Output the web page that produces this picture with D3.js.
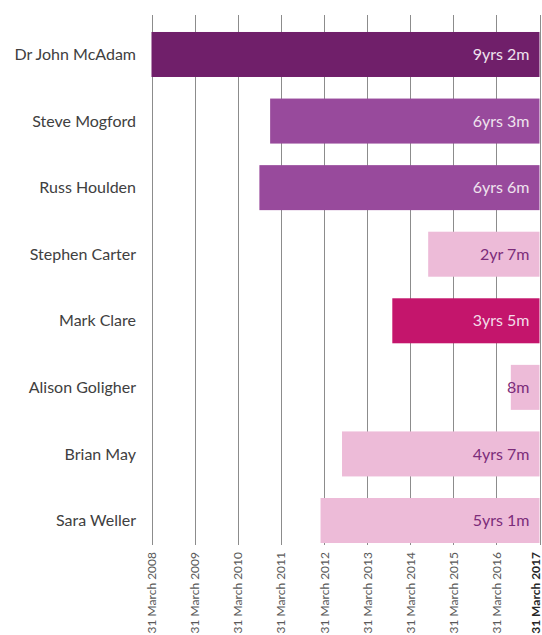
<!DOCTYPE html>
<html>
<head>
<meta charset="utf-8">
<script src="https://cdn.jsdelivr.net/npm/d3@7"></script>
<style>
  html, body { margin: 0; padding: 0; background: #fff; }
  svg { display: block; }
</style>
</head>
<body>
<div id="chart"></div>
<script>
// Board members and their tenure as of 31 March 2017
const names = ["Dr John McAdam", "Steve Mogford", "Russ Houlden", "Stephen Carter",
               "Mark Clare", "Alison Goligher", "Brian May", "Sara Weller"];
const tenureYears  = [9, 6, 6, 2, 3, 0, 4, 5];
const tenureMonths = [2, 3, 6, 7, 5, 8, 7, 1];
const tenureLabels = ["9yrs 2m", "6yrs 3m", "6yrs 6m", "2yr 7m", "3yrs 5m", "8m", "4yrs 7m", "5yrs 1m"];
const barColors = ["#701f6a", "#984a9c", "#984a9c", "#edbbd8", "#c4156c", "#edbbd8", "#edbbd8", "#edbbd8"];
const labelColors = ["#efe3ee", "#efe3ee", "#efe3ee", "#7c2c7a", "#f3dde9", "#7c2c7a", "#7c2c7a", "#7c2c7a"];
const tickYears = [2008, 2009, 2010, 2011, 2012, 2013, 2014, 2015, 2016, 2017];

(function draw() {
  const W = 542, H = 635;
  const plotLeft = 151.5, plotRight = 539.5, plotTop = 15, plotBottom = 545;
  const fontFamily = "Lato, 'Open Sans', sans-serif";

  const endDate = new Date(Date.UTC(2017, 2, 31));
  const startDate = new Date(Date.UTC(2008, 2, 31));
  const tickDates = tickYears.map(yr => new Date(Date.UTC(yr, 2, 31)));

  const x = d3.scaleUtc().domain([startDate, endDate]).range([plotLeft, plotRight]);
  const y = d3.scaleBand().domain(names).range([21.2, 553.8]).paddingInner(0.324).paddingOuter(0.162);

  const rows = names.map((n, i) => {
    const start = d3.utcMonth.offset(endDate, -(tenureYears[i] * 12 + tenureMonths[i]));
    return { name: n, start: start < startDate ? startDate : start, label: tenureLabels[i],
             color: barColors[i], textColor: labelColors[i] };
  });

  const svg = d3.select("#chart").append("svg").attr("width", W).attr("height", H)
    .style("font-family", fontFamily);

  // vertical year gridlines
  svg.append("g").selectAll("line").data(tickDates).join("line")
    .attr("x1", d => Math.round(x(d)) + 0.5).attr("x2", d => Math.round(x(d)) + 0.5)
    .attr("y1", plotTop).attr("y2", plotBottom)
    .attr("stroke", "#8c8c8c").attr("stroke-width", 1);

  // tenure bars, ending at 31 March 2017
  svg.append("g").selectAll("rect").data(rows).join("rect")
    .attr("x", d => x(d.start)).attr("width", d => x(endDate) - x(d.start))
    .attr("y", d => y(d.name)).attr("height", y.bandwidth())
    .attr("fill", d => d.color);

  // tenure labels inside bar ends
  svg.append("g").selectAll("text").data(rows).join("text")
    .attr("x", x(endDate) - 10).attr("y", d => y(d.name) + y.bandwidth() / 2)
    .attr("dy", "0.35em").attr("text-anchor", "end")
    .attr("font-size", 16).attr("fill", d => d.textColor)
    .text(d => d.label);

  // name labels
  svg.append("g").selectAll("text").data(rows).join("text")
    .attr("x", 136).attr("y", d => y(d.name) + y.bandwidth() / 2)
    .attr("dy", "0.35em").attr("text-anchor", "end")
    .attr("font-size", 16).attr("fill", "#404040")
    .text(d => d.name);

  // rotated date axis; the closing date is bold and nudged inside the edge
  const last = tickDates.length - 1;
  const axis = d3.axisBottom(x).tickValues(tickDates).tickSize(0)
    .tickFormat(d => "31 March " + d.getUTCFullYear());
  const ag = svg.append("g").attr("transform", `translate(0,${plotBottom})`).call(axis);
  ag.select(".domain").remove();
  ag.selectAll("text")
    .attr("transform", "rotate(-90)")
    .attr("x", -7).attr("y", (d, i) => i === last ? -4 : 0).attr("dy", "0.35em")
    .attr("text-anchor", "end")
    .attr("font-size", 12).attr("font-family", fontFamily)
    .attr("font-weight", (d, i) => i === last ? "bold" : "normal")
    .attr("fill", (d, i) => i === last ? "#262626" : "#595959");
})();
</script>
</body>
</html>
